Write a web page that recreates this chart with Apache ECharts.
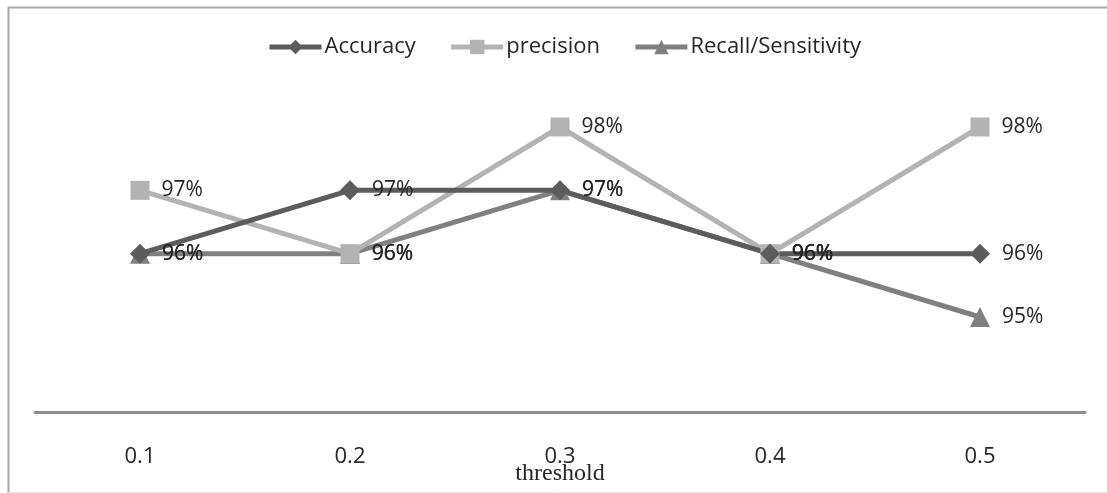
<!DOCTYPE html>
<html><head><meta charset="utf-8">
<script src="https://cdn.jsdelivr.net/npm/echarts@6/dist/echarts.min.js"></script>
<style>html,body{margin:0;padding:0;background:#fff}#c{width:1107px;height:493px}</style>
</head><body><div id="c"></div>
<script>
const categories = ['0.1','0.2','0.3','0.4','0.5'];
const accuracy = [96, 97, 97, 96, 96];
const precision = [97, 96, 98, 96, 98];
const recall = [96, 96, 97, 96, 95];
const xName = 'threshold';

const chart = echarts.init(document.getElementById('c'));
const lbl = {show:true, position:'right', distance:12, color:'#262626', fontSize:21, fontFamily:'Open Sans, Noto Sans, sans-serif', formatter: p => p.value + '%'};
function s(name, data, color, symbol, size) {
  return {name, type:'line', data, symbol, symbolSize:size, color,
    lineStyle:{color, width:5}, itemStyle:{color}, label:lbl, emphasis:{disabled:true}, animation:false};
}
chart.setOption({
  animation:false,
  grid:{left:35, right:22, top:32, bottom:81, containLabel:false, outerBoundsMode:'none'},
  legend:{left:262, top:31, itemWidth:52, itemHeight:18, itemGap:33,
    lineStyle:{width:5},
    textStyle:{fontSize:22, color:'#262626', fontFamily:'Open Sans, Noto Sans, sans-serif', padding:[0,0,0,-2]},
    data:['Accuracy','precision','Recall/Sensitivity']},
  xAxis:{type:'category', data:categories, boundaryGap:true,
    axisLine:{lineStyle:{color:'#8c8c8c', width:3}}, axisTick:{show:false},
    axisLabel:{margin:34, fontSize:22, color:'#262626', fontFamily:'Open Sans, sans-serif'},
    name:xName, nameLocation:'middle', nameGap:50, nameMoveOverlap:false,
    nameTextStyle:{fontSize:24, color:'#262626', fontFamily:'Liberation Serif, serif'}},
  yAxis:{type:'value', min:93.5, max:99.5, show:false, splitLine:{show:false}},
  series:[
    s('Recall/Sensitivity', recall, '#808080', 'triangle', 20),
    s('precision', precision, '#b3b3b3', 'rect', 19),
    s('Accuracy', accuracy, '#5c5c5c', 'diamond', 20)
  ],
  graphic:[
    {type:'line', shape:{x1:8, y1:7.5, x2:1107, y2:7.5}, style:{stroke:'#a6a6a6', lineWidth:2}},
    {type:'line', shape:{x1:8.5, y1:7, x2:8.5, y2:493}, style:{stroke:'#a6a6a6', lineWidth:2}},
    {type:'line', shape:{x1:8, y1:492.5, x2:1107, y2:492.5}, style:{stroke:'#e6e6e6', lineWidth:1}}
  ]
});
</script></body></html>
